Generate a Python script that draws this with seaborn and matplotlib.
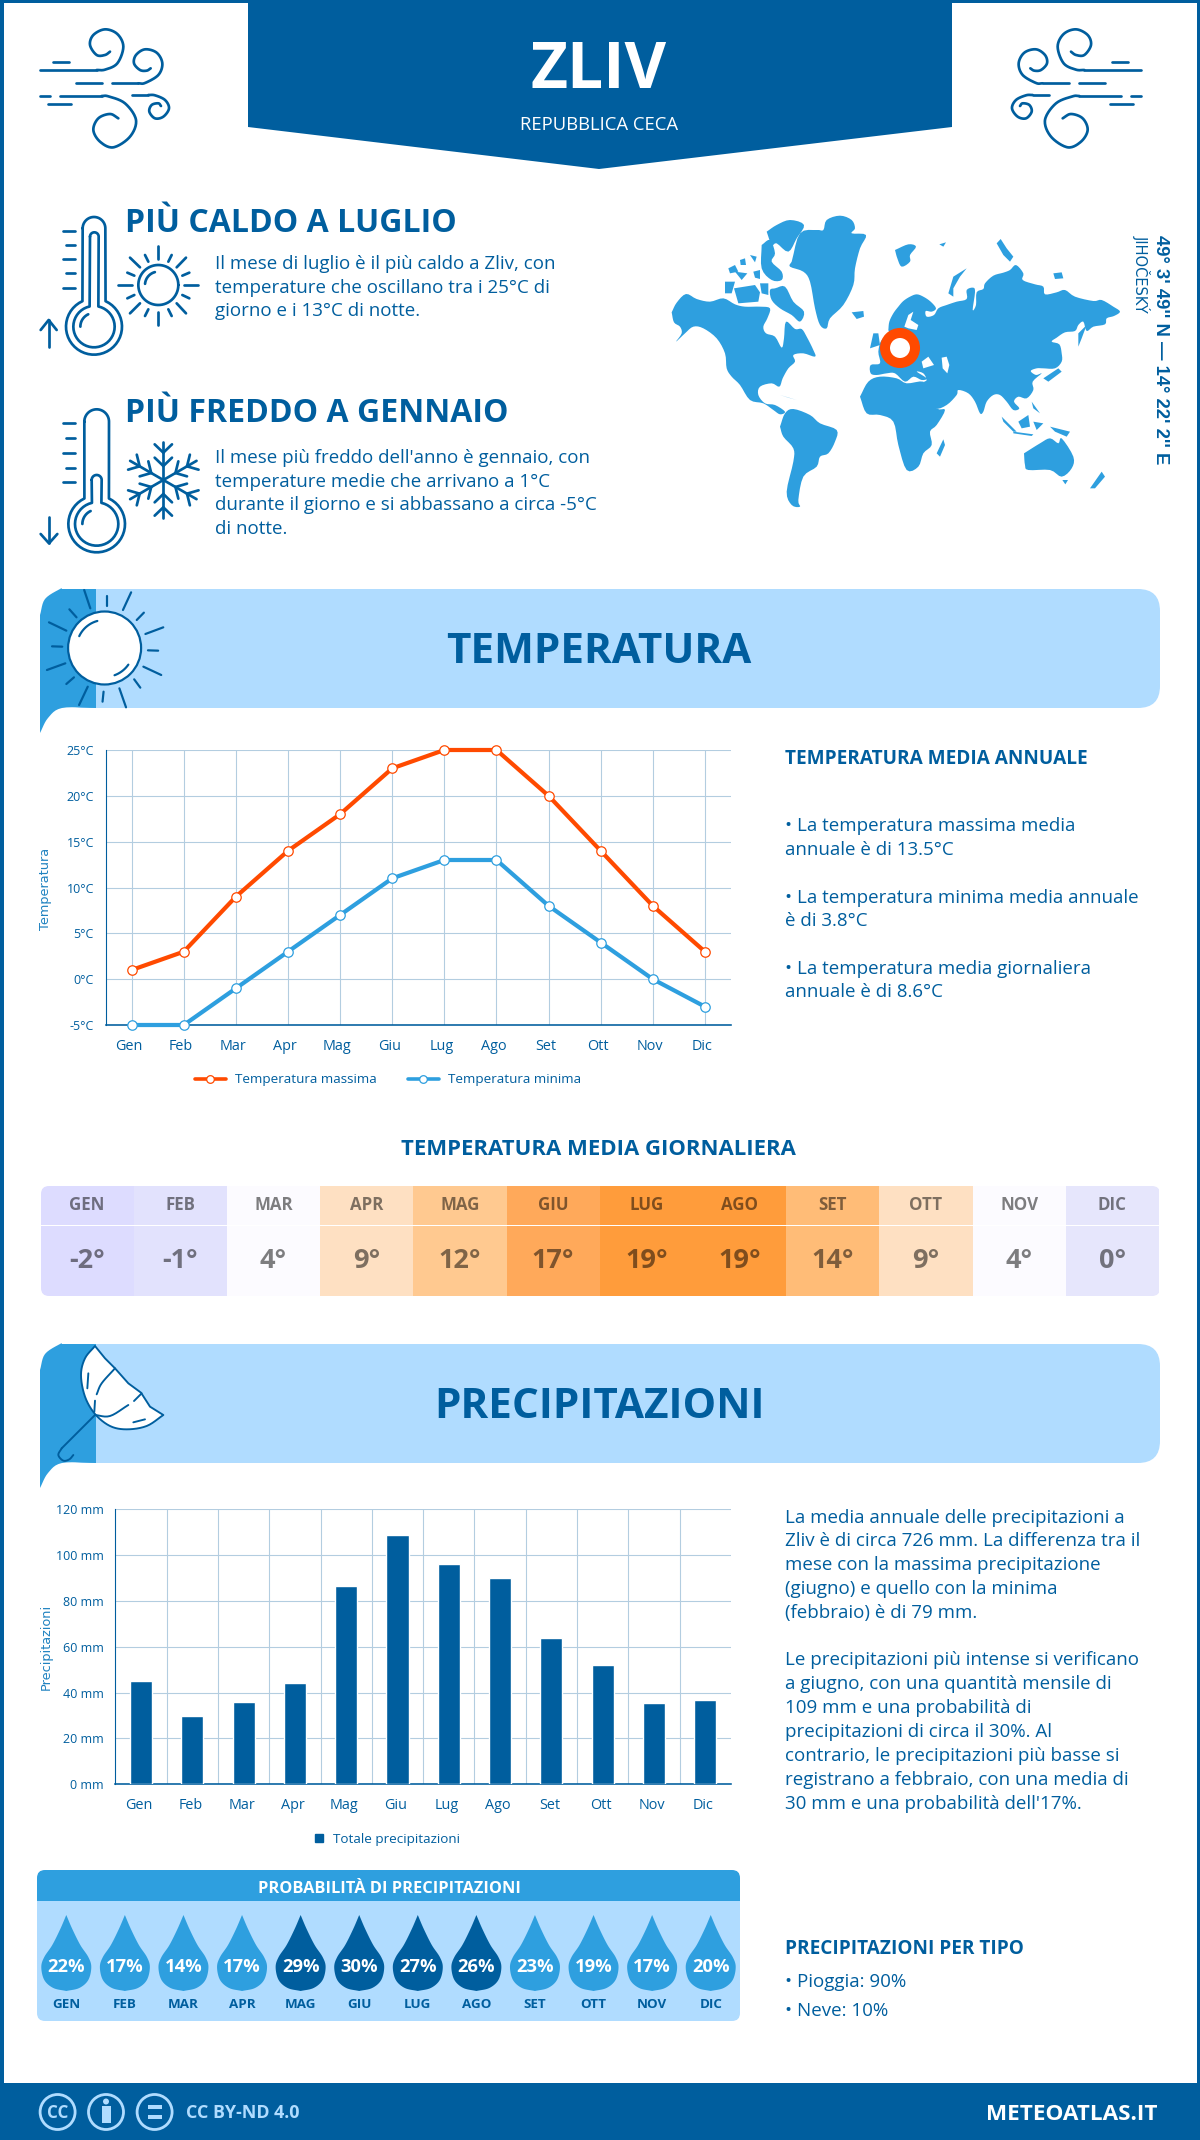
import numpy as np
import pandas as pd
import matplotlib
matplotlib.use("Agg")
import matplotlib.pyplot as plt
import seaborn as sns
from matplotlib.colors import LinearSegmentedColormap
from matplotlib.lines import Line2D
from matplotlib.patches import Circle, FancyBboxPatch, Polygon, Rectangle
from matplotlib.path import Path
from matplotlib.transforms import ScaledTranslation

# ── Data ──────────────────────────────────────────────────────────────────────
months = ["Gen", "Feb", "Mar", "Apr", "Mag", "Giu", "Lug", "Ago", "Set", "Ott", "Nov", "Dic"]
months_upper = ["GEN", "FEB", "MAR", "APR", "MAG", "GIU", "LUG", "AGO", "SET", "OTT", "NOV", "DIC"]
temp_max = [1, 3, 9, 14, 18, 23, 25, 25, 20, 14, 8, 3]
temp_min = [-5, -5, -1, 3, 7, 11, 13, 13, 8, 4, 0, -3]
temp_avg = [-2, -1, 4, 9, 12, 17, 19, 19, 14, 9, 4, 0]
precip_mm = [45, 30, 36, 44, 86.5, 109, 96, 90, 64, 52, 35.5, 37]
precip_prob = [22, 17, 14, 17, 29, 30, 27, 26, 23, 19, 17, 20]
temp_ticks = [-5, 0, 5, 10, 15, 20, 25]
precip_ticks = [0, 20, 40, 60, 80, 100, 120]

# ── Colours and page size ─────────────────────────────────────────────────────
W, H = 1200, 2140
BLUE = "#005e9e"
MID = "#2e9fdf"
LIGHT = "#b0dcff"
ORANGE = "#ff4a00"
GRID = "#b3cde0"
PX = 0.72  # px -> pt at dpi 100

sns.set_theme(style="white")
plt.rcParams["font.family"] = ["Open Sans", "DejaVu Sans"]

fig = plt.figure(figsize=(W / 100, H / 100), dpi=100, facecolor="white")
bg = fig.add_axes([0, 0, 1, 1], zorder=0)
bg.set_xlim(0, W)
bg.set_ylim(H, 0)
bg.axis("off")


def axes_px(x0, y0, x1, y1, zorder=2):
    ax = fig.add_axes([x0 / W, 1 - y1 / H, (x1 - x0) / W, (y1 - y0) / H], zorder=zorder)
    ax.patch.set_visible(False)
    return ax


def txt(x, y, s, px, weight="normal", color=BLUE, ha="left", **kw):
    return bg.text(x, y + 0.35 * px, s, fontsize=px * PX, fontweight=weight, color=color,
                   ha=ha, va="baseline", **kw)


def smooth(pts, n=14):
    # catmull-rom through the points
    p = np.array(pts, dtype=float)
    p = np.vstack([2 * p[0] - p[1], p, 2 * p[-1] - p[-2]])
    out = []
    for i in range(1, len(p) - 2):
        for t in np.linspace(0, 1, n, endpoint=False):
            out.append(0.5 * (2 * p[i] + (p[i + 1] - p[i - 1]) * t
                              + (2 * p[i - 1] - 5 * p[i] + 4 * p[i + 1] - p[i + 2]) * t ** 2
                              + (3 * p[i] - p[i - 1] - 3 * p[i + 1] + p[i + 2]) * t ** 3))
    out.append(p[-2])
    return np.array(out)


def arc(cx, cy, r, a0, a1, n=40):
    a = np.radians(np.linspace(a0, a1, n))
    return np.column_stack([cx + r * np.cos(a), cy + r * np.sin(a)])


def stroke(pts, ox=0, oy=0, sx=1.0, sy=1.0, lw=2.7, color=BLUE, mirror=None, **kw):
    p = np.array(pts, dtype=float)
    x = ox + p[:, 0] * sx
    y = oy + p[:, 1] * sy
    if mirror is not None:
        x = mirror - x
    bg.plot(x, y, color=color, lw=lw * PX, solid_capstyle="round", solid_joinstyle="round", **kw)


def shift_labels(labels, dx_px):
    for lab in labels:
        lab.set_transform(lab.get_transform() + ScaledTranslation(dx_px / 100, 0, fig.dpi_scale_trans))


# ── Page frame, header, footer ────────────────────────────────────────────────
bg.add_patch(Rectangle((0, 0), W, 3, color=BLUE, lw=0))
bg.add_patch(Rectangle((0, 0), 3.5, H, color=BLUE, lw=0))
bg.add_patch(Rectangle((W - 3.5, 0), 3.5, H, color=BLUE, lw=0))
bg.add_patch(Rectangle((0, 2083), W, 57, color=BLUE, lw=0))
bg.add_patch(Polygon([(248, 0), (952, 0), (952, 127), (599, 169), (248, 127)], color=BLUE, lw=0))
txt(599, 66, "ZLIV", 64, "bold", "white", ha="center")
txt(599, 124, "REPUBBLICA CECA", 18.5, "normal", "white", ha="center")

# wind icons
wind_curves = [
    [(200, 150), (225, 149), (262, 130), (280, 80), (262, 42), (225, 28), (190, 45), (180, 75), (200, 105), (225, 105), (240, 95)],
    [(325, 190), (345, 189), (385, 165), (397, 130), (380, 98), (345, 88), (318, 105), (312, 130), (330, 150), (350, 152), (362, 145)],
    [(215, 228), (235, 229), (285, 250), (318, 300), (300, 350), (250, 382), (210, 365), (190, 330), (205, 295), (240, 282), (265, 295)],
    [(355, 225), (375, 226), (405, 240), (417, 265), (400, 290), (375, 295), (358, 275), (365, 255), (385, 250), (393, 258)],
]
wind_dashes = [[(68, 125), (118, 125)], [(138, 190), (215, 190)], [(30, 228), (60, 228)], [(55, 253), (123, 253)],
               [(30, 150), (200, 150)], [(245, 190), (325, 190)], [(90, 228), (215, 228)], [(305, 225), (355, 225)]]
for m in (None, 1181):
    for c in wind_curves:
        stroke(smooth(c), 30, 20, 1 / 3, 1 / 3, mirror=m)
    for d in wind_dashes:
        stroke(d, 30, 20, 1 / 3, 1 / 3, mirror=m)


# ── Thermometers and small icons ──────────────────────────────────────────────
def thermometer(ox, oy, cap, cap_r, inner, inner_r, bulb, join_o, join_i, r_o, r_i, ticks, arrow_up):
    bx, by = bulb
    a = np.degrees(np.arctan2(join_o - by, cap_r))
    outer = np.vstack([arc(cap[0], cap[1], cap_r, 180, 360), arc(bx, by, r_o, a, 180 - a)])
    outer = np.vstack([outer, outer[:1]])
    stroke(outer, ox, oy, 1 / 3, 1 / 3)
    a2 = np.degrees(np.arctan2(join_i - by, inner_r))
    ipath = np.vstack([arc(inner[0], inner[1], inner_r, 180, 360), arc(bx, by, r_i, a2, 180 - a2)])
    ipath = np.vstack([ipath, ipath[:1]])
    stroke(ipath, ox, oy, 1 / 3, 1 / 3)
    stroke(arc(bx, by, r_i * 0.66, 180, 245, 16), ox, oy, 1 / 3, 1 / 3)
    for i, t in enumerate(ticks):
        x0 = 99 if i % 2 == 0 else 109
        stroke([(x0, t), (136, t)], ox, oy, 1 / 3, 1 / 3)
    if arrow_up:
        stroke([(56, 425), (56, 345)], ox, oy, 1 / 3, 1 / 3)
        stroke([(32, 375), (56, 345), (80, 375)], ox, oy, 1 / 3, 1 / 3)
    else:
        stroke([(57, 350), (57, 430)], ox, oy, 1 / 3, 1 / 3)
        stroke([(32, 402), (57, 430), (82, 402)], ox, oy, 1 / 3, 1 / 3)


thermometer(30, 205, (192, 70), 34, (193, 95), 13, (192, 365), 290, 305, 84, 62,
            [77, 120, 163, 205, 248], True)
thermometer(30, 400, (200, 65), 37, (200, 240), 15, (200, 372), 295, 305, 85, 65,
            [70, 115, 159, 203, 247], False)

# little sun next to the first thermometer
sun_rays = [[(265, 240), (305, 240)], [(462, 240), (505, 240)], [(385, 122), (385, 162)], [(385, 320), (385, 360)],
            [(300, 158), (330, 187)], [(468, 158), (440, 187)], [(300, 325), (330, 295)], [(468, 325), (440, 295)],
            [(345, 150), (355, 170)], [(425, 150), (415, 170)], [(292, 203), (313, 212)], [(478, 203), (457, 212)],
            [(292, 280), (313, 270)], [(478, 280), (457, 270)], [(345, 333), (355, 313)], [(425, 333), (415, 313)]]
stroke(arc(385, 240, 60, 0, 360, 60), 30, 205, 1 / 3, 1 / 3)
stroke(arc(385, 240, 40, 185, 255, 14), 30, 205, 1 / 3, 1 / 3)
for r in sun_rays:
    stroke(r, 30, 205, 1 / 3, 1 / 3)

# snowflake
for ang in range(30, 390, 60):
    u = np.array([np.cos(np.radians(ang)), np.sin(np.radians(ang))])
    v = np.array([-u[1], u[0]])
    c = np.array([400, 240])
    stroke([c, c + 115 * u], 30, 400, 1 / 3, 1 / 3)
    for r0 in (42, 82):
        for sgn in (-1, 1):
            stroke([c + r0 * u, c + (r0 + 25) * u + sgn * 26 * v], 30, 400, 1 / 3, 1 / 3)

# ── Top text ──────────────────────────────────────────────────────────────────
txt(125, 221, "PIÙ CALDO A LUGLIO", 32, "bold")
for y, s in zip([262.5, 286, 309.5], ["Il mese di luglio è il più caldo a Zliv, con",
                                      "temperature che oscillano tra i 25°C di",
                                      "giorno e i 13°C di notte."]):
    txt(215, y, s, 18.75)
txt(125, 411, "PIÙ FREDDO A GENNAIO", 32, "bold")
for y, s in zip([456.5, 480, 503.5, 527], ["Il mese più freddo dell'anno è gennaio, con",
                                           "temperature medie che arrivano a 1°C",
                                           "durante il giorno e si abbassano a circa -5°C",
                                           "di notte."]):
    txt(215, y, s, 18.75)

# world map outline, traced by eye in a 3x crop
land = [
    # north america
    [(35, 322), (50, 293), (78, 267), (110, 282), (150, 290), (190, 280), (225, 298), (255, 305), (300, 305), (330, 310), (322, 340), (310, 365), (318, 385), (345, 395), (365, 428), (372, 400), (378, 350), (405, 372), (425, 372), (440, 395), (460, 435), (465, 455), (430, 445), (400, 450), (405, 470), (385, 490), (368, 520), (358, 545), (335, 535), (300, 545), (295, 570), (315, 595), (345, 600), (375, 620), (360, 628), (340, 615), (310, 595), (270, 585), (240, 540), (215, 515), (200, 490), (195, 445), (170, 400), (130, 370), (100, 365), (75, 385), (48, 410), (65, 385), (60, 365), (42, 352)],
    # arctic islands
    [(320, 80), (350, 60), (390, 45), (432, 60), (410, 100), (385, 140), (350, 115), (335, 120)],
    [(305, 120), (330, 105), (345, 145), (335, 170), (365, 200), (365, 225), (335, 225), (305, 190)],
    [(345, 250), (375, 245), (400, 290), (432, 320), (420, 350), (395, 330), (360, 310), (335, 285), (330, 255)],
    [(195, 230), (225, 230), (215, 265), (195, 265)],
    [(222, 250), (285, 240), (300, 262), (295, 290), (235, 295)],
    [(300, 235), (325, 235), (325, 270), (305, 265)],
    [(205, 190), (225, 180), (235, 200), (210, 205)],
    [(225, 200), (262, 205), (245, 225)],
    [(280, 200), (300, 195), (300, 222), (285, 218)],
    [(240, 165), (255, 160), (258, 180), (242, 180)],
    [(270, 150), (290, 155), (285, 172)],
    # greenland, iceland, svalbard and others
    [(395, 170), (420, 85), (470, 75), (490, 75), (500, 45), (540, 32), (575, 45), (585, 70), (575, 85), (618, 90), (600, 130), (585, 190), (580, 240), (550, 300), (510, 340), (500, 370), (480, 360), (465, 310), (450, 230), (430, 200), (390, 185)],
    [(575, 322), (610, 318), (612, 335), (590, 342)],
    [(705, 135), (745, 118), (768, 125), (750, 150), (750, 170), (725, 185), (712, 160)],
    [(1010, 115), (1022, 102), (1040, 130), (1060, 155), (1050, 170), (1030, 150)],
    [(838, 118), (858, 112), (850, 125)],
    [(865, 265), (880, 215), (920, 190), (900, 215), (880, 250), (880, 275)],
    [(1180, 205), (1205, 202), (1210, 220), (1185, 222)],
    # eurasia
    [(685, 375), (688, 350), (700, 325), (715, 305), (730, 288), (750, 275), (770, 268), (790, 275), (812, 290), (828, 310), (815, 320), (797, 318), (800, 335), (822, 330), (835, 310), (860, 300), (890, 290), (920, 282), (920, 255), (940, 248), (945, 262), (938, 315), (948, 300), (950, 262), (970, 252), (975, 235), (1000, 212), (1030, 203), (1050, 195), (1068, 180), (1090, 205), (1088, 225), (1125, 238), (1150, 245), (1155, 268), (1190, 262), (1215, 255), (1245, 275), (1300, 288), (1325, 285), (1360, 305), (1380, 320), (1362, 333), (1340, 340), (1335, 358), (1300, 365), (1280, 378), (1270, 350), (1255, 360), (1245, 378), (1215, 382), (1190, 398), (1175, 410), (1198, 418), (1205, 445), (1205, 470), (1185, 490), (1150, 490), (1130, 490), (1112, 498), (1128, 510), (1145, 505), (1118, 530), (1120, 555), (1100, 580), (1075, 575), (1062, 590), (1078, 610), (1060, 615), (1040, 590), (1020, 570), (1000, 570), (980, 590), (970, 620), (960, 625), (945, 590), (925, 565), (895, 555), (890, 570), (860, 600), (825, 610), (800, 570), (790, 535), (800, 525), (790, 505), (770, 500), (800, 520), (785, 525), (760, 515), (735, 530), (705, 505), (680, 505), (650, 510), (632, 505), (632, 480), (660, 475), (655, 440), (665, 405), (690, 395)],
    # africa
    [(600, 575), (625, 530), (660, 515), (710, 520), (740, 535), (790, 530), (800, 560), (830, 610), (855, 615), (830, 660), (810, 680), (815, 720), (790, 745), (775, 785), (740, 795), (715, 720), (700, 650), (660, 630), (620, 625)],
    [(830, 745), (850, 703), (855, 720), (840, 755)],
    # south america
    [(360, 665), (375, 625), (400, 612), (450, 630), (480, 655), (530, 675), (525, 710), (505, 745), (480, 755), (470, 785), (430, 815), (415, 885), (420, 905), (395, 900), (380, 860), (400, 770), (400, 730), (370, 695)],
    # oceania and asian islands
    [(1092, 745), (1140, 715), (1170, 700), (1195, 715), (1205, 700), (1240, 755), (1235, 790), (1205, 815), (1170, 795), (1105, 795), (1095, 780)],
    [(1290, 850), (1325, 800), (1335, 815), (1305, 850)],
    [(1150, 520), (1195, 490), (1205, 500), (1165, 530)],
    [(1255, 425), (1255, 385), (1280, 360), (1265, 400)],
    [(1025, 635), (1070, 680), (1060, 680), (1030, 650)],
    [(1060, 680), (1120, 688), (1115, 693), (1060, 685)],
    [(1075, 650), (1105, 630), (1110, 665), (1085, 670)],
    [(1170, 665), (1230, 680), (1220, 695), (1185, 680)],
    [(1115, 590), (1140, 625), (1120, 610)],
    [(1120, 650), (1150, 655), (1130, 675)],
    [(640, 385), (655, 385), (660, 420), (630, 430)],
    [(360, 570), (410, 585), (385, 578)],
    [(1207, 825), (1224, 825), (1216, 838)],
]
seas = [
    [(733, 365), (745, 330), (760, 320), (752, 345), (775, 360), (770, 375), (745, 370)],
    [(785, 470), (805, 455), (822, 480), (790, 490)],
    [(845, 458), (860, 455), (868, 480), (862, 505), (848, 490)],
]
for poly in land:
    p = np.array(poly + poly[:1], dtype=float)
    if len(poly) >= 7:
        p = smooth(p, 4)  # takes the corners off the bigger coastlines
    bg.add_patch(Polygon(np.column_stack([660 + p[:, 0] / 3, 205 + p[:, 1] / 3]), color=MID, lw=0))
for poly in seas:
    p = np.array(poly, dtype=float)
    bg.add_patch(Polygon(np.column_stack([660 + p[:, 0] / 3, 205 + p[:, 1] / 3]), color="white", lw=0))
bg.add_patch(Circle((900, 348), 15, facecolor="white", edgecolor=ORANGE, lw=10 * PX))

bg.text(1161, 235, "49° 3' 49'' N — 14° 22' 2'' E", family="Liberation Sans", fontweight="bold",
        fontsize=13.3, color=BLUE, rotation=-90, ha="center", va="top")
bg.text(1141.5, 235, "JIHOČESKÝ", family="DejaVu Sans", fontsize=10.5, color=BLUE,
        rotation=-90, ha="center", va="top")


# ── Section banners ───────────────────────────────────────────────────────────
def banner(y0, y1, title):
    bg.add_patch(FancyBboxPatch((62, y0), 1098, y1 - y0, boxstyle="round,pad=0,rounding_size=22",
                                facecolor=LIGHT, edgecolor="none"))
    top = smooth([(40, y0 + 26), (45, y0 + 10), (60, y0), (62, y0)], 6)
    low = smooth([(96, y1), (62, y1), (48, y1 + 10), (40, y1 + 25)], 6)
    outline = np.vstack([top, [(96, y0)], low])
    bg.add_patch(Polygon(outline, color=MID, lw=0))
    txt(599, (y0 + y1) / 2, title, 42.3, "bold", ha="center")


banner(589, 708, "TEMPERATURA")
banner(1344, 1463, "PRECIPITAZIONI")

# big sun on the temperature banner
bg.add_patch(Circle((104.6, 648), 36.5, facecolor="white", edgecolor=BLUE, lw=2.2 * PX, zorder=3))
big_rays = [[(165, 30), (177, 85)], [(210, 48), (210, 78)], [(257, 37), (241, 90)], [(282, 98), (268, 120)],
            [(320, 142), (285, 162)], [(310, 212), (290, 211)], [(316, 285), (281, 260)], [(275, 323), (263, 298)],
            [(247, 382), (234, 325)], [(201, 365), (203, 335)], [(155, 375), (172, 320)], [(130, 312), (145, 292)],
            [(92, 270), (128, 250)], [(122, 200), (102, 199)], [(130, 152), (96, 127)], [(150, 112), (136, 88)]]
for r in big_rays:
    stroke(r, 0, 580, 1 / 1.96, 1 / 3, lw=2.2)
stroke(arc(104.6, 648, 28, 205, 255, 12), lw=2.2, zorder=4)
stroke(arc(104.6, 648, 29, 35, 70, 10), lw=2.2, zorder=4)

# umbrella on the precipitation banner
umb_top = [(195, 18), (225, 55), (255, 85), (295, 130), (333, 158), (360, 200), (400, 225)]
umb_low = smooth([(400, 225), (350, 258), (290, 268), (240, 258), (195, 222), (165, 170), (153, 105), (165, 55), (195, 18)], 6)
u = np.vstack([umb_top, umb_low])
bg.add_patch(Polygon(np.column_stack([30 + u[:, 0] / 3, 1340 + u[:, 1] / 3]), closed=True, facecolor="white",
                     edgecolor=BLUE, lw=1.9 * PX, zorder=3, joinstyle="round"))
for seg in ([(255, 85), (215, 130), (200, 163)], [(195, 182), (193, 215)], [(195, 225), (240, 228), (295, 195)],
            [(335, 160), (312, 183)], [(345, 238), (310, 247)], [(175, 100), (172, 145)]):
    stroke(smooth(seg, 6), 30, 1340, 1 / 3, 1 / 3, lw=1.9, zorder=4)
stroke([(195, 225), (95, 325)], 30, 1340, 1 / 3, 1 / 3, lw=1.9, zorder=4)
stroke(smooth([(95, 325), (85, 345), (100, 362), (118, 358), (130, 345)], 6), 30, 1340, 1 / 3, 1 / 3, lw=1.9, zorder=4)

# ── Temperature line chart ────────────────────────────────────────────────────
ax = axes_px(105.6, 750, 731, 1025)
temp_df = pd.DataFrame({"mese": months, "max": temp_max, "min": temp_min})
sns.lineplot(data=temp_df, x="mese", y="max", ax=ax, color=ORANGE, lw=4.2 * PX, marker="o", ms=6.8,
             mfc="white", mec=ORANGE, mew=0.9, clip_on=False, sort=False, zorder=4)
sns.lineplot(data=temp_df, x="mese", y="min", ax=ax, color=MID, lw=4.2 * PX, marker="o", ms=6.8,
             mfc="white", mec=MID, mew=0.9, clip_on=False, sort=False, zorder=3)
ax.set_xlim(-0.5, 11.5)
ax.set_ylim(-5, 25)
ax.set_yticks(temp_ticks)
ax.set_yticklabels([f"{t}°C" for t in temp_ticks])
ax.grid(True, color=GRID, lw=1.1 * PX)
ax.set_axisbelow(True)
sns.despine(ax=ax)
ax.spines["left"].set_color(BLUE)
ax.spines["bottom"].set_color(BLUE)
ax.spines["left"].set_linewidth(1.1 * PX)
ax.spines["bottom"].set_linewidth(1.6 * PX)
ax.tick_params(axis="y", length=6 * PX, width=1.1 * PX, color=BLUE, labelcolor=BLUE, labelsize=9, pad=4)
ax.tick_params(axis="x", length=0, labelcolor=BLUE, labelsize=10.4, pad=10)
shift_labels(ax.get_xticklabels(), -2.7)
ax.set_xlabel("")
ax.set_ylabel("")
bg.text(46, 889, "Temperatura", family="DejaVu Sans", fontsize=9.3, color="#1f82c0", rotation=90, ha="center", va="center")
temp_handles = [Line2D([], [], color=ORANGE, lw=3.6 * PX, marker="o", ms=5.5, mfc="white", mec=ORANGE, mew=0.9),
                Line2D([], [], color=MID, lw=3.6 * PX, marker="o", ms=5.5, mfc="white", mec=MID, mew=0.9)]
fig.legend(temp_handles, ["Temperatura massima", "Temperatura minima"], loc="center",
           bbox_to_anchor=(388 / W, 1 - 1080 / H), ncol=2, frameon=False, fontsize=9.7, labelcolor=BLUE,
           handlelength=2.3, handletextpad=0.7, columnspacing=2.3)

# ── Daily mean heatmap ────────────────────────────────────────────────────────
txt(598, 1147, "TEMPERATURA MEDIA GIORNALIERA", 22.2, "bold", ha="center")
nodes = [(-2, "#dddcff"), (-1, "#e2e2fd"), (0, "#e6e6fc"), (4, "#fcfbff"), (9, "#fee0c3"),
         (12, "#ffc990"), (14, "#ffbc78"), (17, "#ffa95a"), (19, "#ff9c3b")]
heat_cmap = LinearSegmentedColormap.from_list("temp", [((v + 2) / 21, c) for v, c in nodes])
corner = FancyBboxPatch((40.5, 1186), 1119, 110, boxstyle="round,pad=0,rounding_size=8",
                        facecolor="none", edgecolor="none")
bg.add_patch(corner)
heat_top = axes_px(40.5, 1186, 1159, 1224.6)
heat_low = axes_px(40.5, 1225.8, 1159, 1296)
avg_row = np.array([temp_avg])
sns.heatmap(avg_row, ax=heat_top, cmap=heat_cmap, vmin=-2, vmax=19, cbar=False, annot=np.array([months_upper]), fmt="",
            annot_kws={"fontsize": 12.2, "fontweight": "bold", "color": "black", "alpha": 0.5},
            xticklabels=False, yticklabels=False)
sns.heatmap(avg_row, ax=heat_low, cmap=heat_cmap, vmin=-2, vmax=19, cbar=False,
            annot=np.array([[f"{v}°" for v in temp_avg]]), fmt="",
            annot_kws={"fontsize": 19.5, "fontweight": "bold", "color": "black", "alpha": 0.5},
            xticklabels=False, yticklabels=False)
for hax in (heat_top, heat_low):
    hax.collections[0].set_clip_path(corner.get_path(), corner.get_transform())

# ── Precipitation bars ────────────────────────────────────────────────────────
pax = axes_px(115.3, 1509.3, 731, 1784.3)
precip_df = pd.DataFrame({"mese": months, "mm": precip_mm})
sns.barplot(data=precip_df, x="mese", y="mm", ax=pax, color=BLUE, saturation=1, width=0.43, zorder=3,
            legend=False)
pax.set_xlim(-0.5, 11.5)
pax.set_ylim(0, 120)
pax.set_yticks(precip_ticks)
pax.set_yticklabels([f"{t} mm" for t in precip_ticks])
pax.set_xticks(np.arange(0.5, 11), minor=True)
pax.grid(True, axis="y", color=GRID, lw=1.1 * PX)
pax.grid(True, axis="x", which="minor", color=GRID, lw=1.1 * PX)
pax.set_axisbelow(True)
sns.despine(ax=pax)
pax.spines["left"].set_color(BLUE)
pax.spines["bottom"].set_color(BLUE)
pax.spines["left"].set_linewidth(1.1 * PX)
pax.spines["bottom"].set_linewidth(1.6 * PX)
pax.tick_params(axis="y", length=6 * PX, width=1.1 * PX, color=BLUE, labelcolor=BLUE, labelsize=9, pad=4)
pax.tick_params(axis="x", which="both", length=0, labelcolor=BLUE, labelsize=10.4, pad=10)
shift_labels(pax.get_xticklabels(), -2)
pax.set_xlabel("")
pax.set_ylabel("")
bg.text(46, 1647, "Precipitazioni", family="DejaVu Sans", fontsize=9.3, color="#1f82c0", rotation=90, ha="center", va="center")
fig.legend(handles=[Line2D([], [], color=BLUE, ls="", marker="s", ms=6)], labels=["Totale precipitazioni"], loc="center",
           bbox_to_anchor=(387 / W, 1 - 1839 / H), frameon=False, fontsize=9.7, labelcolor=BLUE,
           handlelength=0.7, handletextpad=0.7)

# ── Probability drops ─────────────────────────────────────────────────────────
bg.add_patch(FancyBboxPatch((37, 1885), 703, 136, boxstyle="round,pad=0,rounding_size=8", facecolor=LIGHT, edgecolor="none"))
bg.add_patch(FancyBboxPatch((37, 1870), 703, 25, boxstyle="round,pad=0,rounding_size=8", facecolor=MID, edgecolor="none"))
bg.add_patch(Rectangle((37, 1880), 703, 21, color=MID, lw=0))
txt(389, 1887, "PROBABILITÀ DI PRECIPITAZIONI", 16.4, "bold", "white", ha="center")

half = smooth([(0, 38), (-6, 24), (-14, 8), (-22, -4), (-25, -14), (-22, -27), (-13, -35), (0, -38)], 8)
drop_v = np.vstack([half, half[-2:0:-1] * [-1, 1]]) / 38
drop_marker = Path(np.vstack([drop_v, drop_v[:1]]), closed=True)
dax = axes_px(37, 1901, 740, 2021)
drop_df = pd.DataFrame({"mese": months_upper, "y": 0.0, "banda": ["alta" if p >= 26 else "bassa" for p in precip_prob]})
sns.scatterplot(data=drop_df, x="mese", y="y", hue="banda", palette={"alta": BLUE, "bassa": MID}, ax=dax,
                marker=drop_marker, s=(76 * PX) ** 2, linewidth=0, legend=False, clip_on=False)
dax.set_xlim(-0.5, 11.5)
dax.set_ylim(120 - 52, -52)  # y=0 sits at the drop centre, units are px
dax.axis("off")
for i, (p, m) in enumerate(zip(precip_prob, months_upper)):
    dax.text(i, 14, f"{p}%", color="white", fontsize=13.2, fontweight="bold", ha="center", va="center")
    dax.text(i, 52, m, color=BLUE, fontsize=9.6, fontweight="bold", ha="center", va="center")

# ── Right column text ─────────────────────────────────────────────────────────
txt(785.3, 757, "TEMPERATURA MEDIA ANNUALE", 19.05, "bold")
for y, s in zip([824, 848, 896, 919, 967, 990],
                ["• La temperatura massima media", "annuale è di 13.5°C",
                 "• La temperatura minima media annuale", "è di 3.8°C",
                 "• La temperatura media giornaliera", "annuale è di 8.6°C"]):
    txt(785.3, y, s, 18.75)

para_y = [1516.5, 1539.5, 1563.5, 1587.5, 1611.5, 1658.5, 1682.5, 1706.5, 1730, 1754, 1778, 1802]
para = ["La media annuale delle precipitazioni a", "Zliv è di circa 726 mm. La differenza tra il",
        "mese con la massima precipitazione", "(giugno) e quello con la minima",
        "(febbraio) è di 79 mm.",
        "Le precipitazioni più intense si verificano", "a giugno, con una quantità mensile di",
        "109 mm e una probabilità di", "precipitazioni di circa il 30%. Al",
        "contrario, le precipitazioni più basse si", "registrano a febbraio, con una media di",
        "30 mm e una probabilità dell'17%."]
for y, s in zip(para_y, para):
    txt(785.3, y, s, 18.75)
txt(785.3, 1947.5, "PRECIPITAZIONI PER TIPO", 19, "bold")
txt(785.3, 1980.5, "• Pioggia: 90%", 18.75)
txt(785.3, 2009, "• Neve: 10%", 18.75)

# ── Footer ────────────────────────────────────────────────────────────────────
for cx in (57.6, 106, 154.6):
    bg.add_patch(Circle((cx, 2112), 17.5, facecolor="none", edgecolor=LIGHT, lw=2.8 * PX, zorder=3))
txt(57.6, 2112, "CC", 17, "bold", LIGHT, ha="center", zorder=4)
bg.add_patch(Circle((106, 2101.5), 3, color=LIGHT, lw=0, zorder=4))
bg.add_patch(Rectangle((101.5, 2105.5), 9, 17, color=LIGHT, lw=0, zorder=4))
bg.add_patch(Rectangle((147.5, 2105), 14, 4, color=LIGHT, lw=0, zorder=4))
bg.add_patch(Rectangle((147.5, 2114.5), 14, 4, color=LIGHT, lw=0, zorder=4))
txt(186, 2112, "CC BY-ND 4.0", 17.9, "bold", LIGHT)
txt(1158, 2112, "METEOATLAS.IT", 22.5, "bold", "white", ha="right")

fig.savefig("out.png", dpi=100)
